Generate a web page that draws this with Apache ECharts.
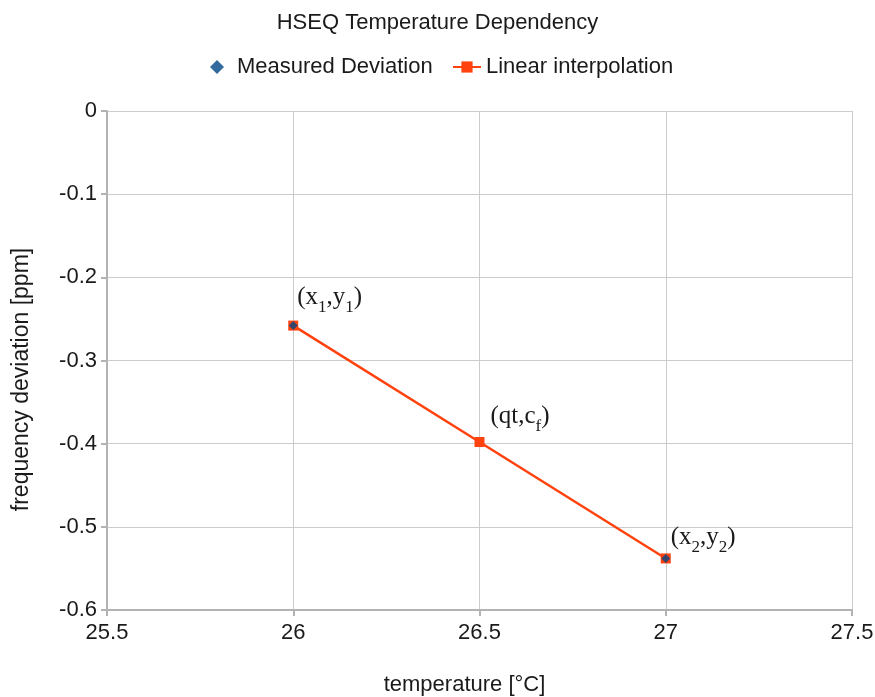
<!DOCTYPE html>
<html>
<head>
<meta charset="utf-8">
<script src="https://cdn.jsdelivr.net/npm/echarts@6/dist/echarts.min.js"></script>
<style>
html,body{margin:0;padding:0;background:#fff;}
#chart{width:875px;height:697px;}
</style>
</head>
<body>
<div id="chart"></div>
<script>
// Temperature (°C) and frequency deviation (ppm)
const measuredTemps = [26, 27];
const measuredDev = [-0.258, -0.538];
const interpTemps = [26, 26.5, 27];
const interpDev = [-0.258, -0.398, -0.538];
const pointLabels = [
  '{n|(x}{s|1}{n|,y}{s|1}{n|)}',
  '{n|(qt,c}{s|f}{n|)}',
  '{n|(x}{s|2}{n|,y}{s|2}{n|)}'
];
const labelOffsets = [[-6, -30], [1, -27], [-5, -22]];
const xTicks = { min: 25.5, max: 27.5, step: 0.5 };
const yTicks = { min: -0.6, max: 0, step: 0.1 };

const SANS = 'Liberation Sans';
const TEXT = '#1a1a1a';
const labelRich = {
  n: { fontFamily: 'Liberation Serif', fontSize: 25, color: TEXT, verticalAlign: 'bottom', lineHeight: 28 },
  s: { fontFamily: 'Liberation Serif', fontSize: 17, color: TEXT, verticalAlign: 'bottom', lineHeight: 18, padding: [0, 0, -6, 0] }
};

const chart = echarts.init(document.getElementById('chart'), null, { renderer: 'canvas' });
chart.setOption({
  animation: false,
  backgroundColor: '#fff',
  title: {
    text: 'HSEQ Temperature Dependency',
    left: 'center',
    top: 7,
    textStyle: { fontFamily: SANS, fontSize: 22, fontWeight: 'normal', color: TEXT }
  },
  legend: [
    {
      top: 51,
      left: 205,
      itemWidth: 14,
      itemHeight: 14,
      textStyle: { fontFamily: SANS, fontSize: 22, color: TEXT, padding: [0, 0, 0, 8] },
      data: [{ name: 'Measured Deviation', icon: 'diamond' }]
    },
    {
      top: 51,
      left: 447,
      itemWidth: 28,
      itemHeight: 14,
      textStyle: { fontFamily: SANS, fontSize: 22, color: TEXT },
      data: [{ name: 'Linear interpolation' }]
    }
  ],
  grid: { left: 107, right: 23, top: 111, bottom: 87, containLabel: false, outerBoundsMode: 'none' },
  xAxis: {
    type: 'value',
    min: xTicks.min, max: xTicks.max, interval: xTicks.step,
    name: 'temperature [°C]',
    nameLocation: 'middle',
    nameGap: 64,
    nameTextStyle: { fontFamily: SANS, fontSize: 22, color: TEXT, padding: [0, 30, 0, 0] },
    axisLine: { show: true, onZero: false, lineStyle: { color: '#b3b3b3', width: 2 } },
    axisTick: { show: true, length: 6, lineStyle: { color: '#b3b3b3', width: 2 } },
    axisLabel: { fontFamily: SANS, fontSize: 22, color: TEXT, margin: 12 },
    splitLine: { show: true, lineStyle: { color: '#cccccc', width: 1 } }
  },
  yAxis: {
    type: 'value',
    min: yTicks.min, max: yTicks.max, interval: yTicks.step,
    name: 'frequency deviation [ppm]',
    nameLocation: 'middle',
    nameGap: 74,
    nameTextStyle: { fontFamily: SANS, fontSize: 23, color: TEXT, padding: [0, 38, 0, 0] },
    axisLine: { show: true, onZero: false, lineStyle: { color: '#b3b3b3', width: 2 } },
    axisTick: { show: true, length: 6, lineStyle: { color: '#b3b3b3', width: 2 } },
    axisLabel: { fontFamily: SANS, fontSize: 22, color: TEXT, margin: 10 },
    splitLine: { show: true, lineStyle: { color: '#cccccc', width: 1 } }
  },
  series: [
    {
      name: 'Linear interpolation',
      type: 'line',
      data: interpTemps.map((t, i) => ({
        value: [t, interpDev[i]],
        label: {
          show: true,
          position: 'right',
          offset: labelOffsets[i],
          formatter: pointLabels[i],
          rich: labelRich
        }
      })),
      symbol: 'rect',
      symbolSize: 10,
      showAllSymbol: true,
      lineStyle: { color: '#ff420e', width: 2.5 },
      itemStyle: { color: '#ff420e' },
      z: 2
    },
    {
      name: 'Measured Deviation',
      type: 'scatter',
      data: measuredTemps.map((t, i) => [t, measuredDev[i]]),
      symbol: 'diamond',
      symbolSize: 9,
      itemStyle: { color: '#004586' },
      z: 3
    }
  ]
});
</script>
</body>
</html>
